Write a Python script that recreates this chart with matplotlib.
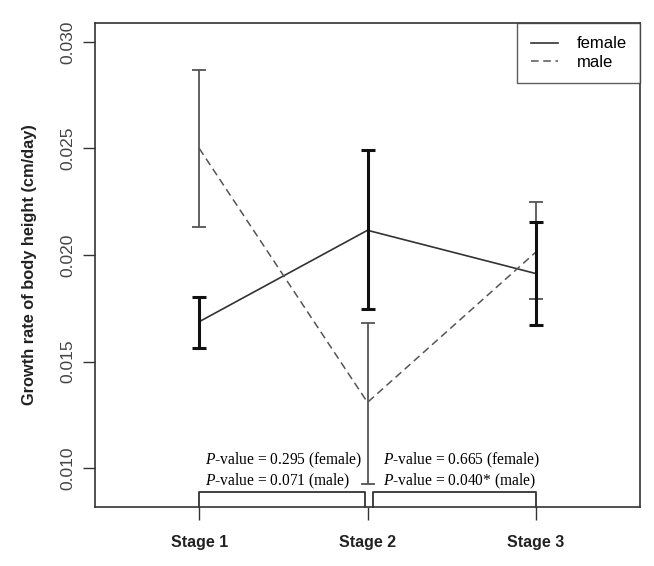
import numpy as np
import matplotlib.pyplot as plt

stages = ['Stage 1', 'Stage 2', 'Stage 3']
female_mean = [0.01687, 0.02116, 0.01913]
female_lo = [0.01563, 0.01748, 0.01670]
female_hi = [0.01802, 0.02491, 0.02154]
male_mean = [0.02500, 0.01308, 0.02013]
male_lo = [0.02132, 0.00925, 0.01795]
male_hi = [0.02869, 0.01680, 0.02249]
p_text = ['$\\it{P}$-value = 0.295 (female)\n$\\it{P}$-value = 0.071 (male)',
          '$\\it{P}$-value = 0.665 (female)\n$\\it{P}$-value = 0.040* (male)']

plt.rcParams['font.family'] = ['Liberation Sans', 'DejaVu Sans']
plt.rcParams['mathtext.fontset'] = 'custom'
plt.rcParams['mathtext.it'] = 'Liberation Serif:italic'
plt.rcParams['mathtext.rm'] = 'Liberation Serif'

fig = plt.figure(figsize=(6.54, 5.66), dpi=100)
ax = fig.add_axes([95 / 654, 1 - 507 / 566, 545 / 654, 484 / 566])

x = np.arange(1, 4)
fm = np.array(female_mean)
mm = np.array(male_mean)

# error bars
ax.errorbar(x, fm, yerr=[fm - np.array(female_lo), np.array(female_hi) - fm],
            fmt='none', ecolor='#111111', elinewidth=2.2, capsize=5, capthick=2.2, zorder=3)
ax.errorbar(x, mm, yerr=[mm - np.array(male_lo), np.array(male_hi) - mm],
            fmt='none', ecolor='#555555', elinewidth=1.3, capsize=5, capthick=1.3, zorder=2)

ax.plot(x, fm, color='#333333', lw=1.2, ls='-', label='female')
ax.plot(x, mm, color='#555555', lw=1.1, ls=(0, (5, 3)), label='male')

ax.set_xlim(0.38, 3.62)
ax.set_ylim(0.00817, 0.03089)
ax.set_xticks(x)
ax.set_xticklabels(stages, fontweight='bold', fontsize=11.5, color='#222222')
ax.set_yticks([0.010, 0.015, 0.020, 0.025, 0.030])
ax.set_yticklabels(['0.010', '0.015', '0.020', '0.025', '0.030'], rotation=90,
                   va='center', fontsize=12.5, color='#444444')
ax.tick_params(axis='both', length=9, width=1, color='#333333')
ax.tick_params(axis='x', pad=11)
ax.tick_params(axis='y', pad=5)
ax.set_ylabel('Growth rate of body height (cm/day)', fontweight='bold', fontsize=11.8,
              color='#222222', labelpad=17)

for s in ax.spines.values():
    s.set_color('#333333')
    s.set_linewidth(1.2)
ax.spines['bottom'].set_visible(False)
ax.axhline(0.00817, color='#333333', lw=1.2, clip_on=False)

# brackets
yb = 0.00888
for (a, b) in [(1.0, 1.985), (2.03, 3.0)]:
    ax.plot([a, a, b, b], [0.00817, yb, yb, 0.00817], color='#333333', lw=1.3, clip_on=False)

for xt, t in zip([1.035, 2.09], p_text):
    ax.text(xt, 0.00985, t, fontsize=11.2, va='center', ha='left', linespacing=1.15,
            family='Liberation Serif')

leg = ax.legend(loc='upper right', borderaxespad=0, fancybox=False, frameon=True,
                edgecolor='#333333', fontsize=12, handlelength=1.65, handletextpad=1.1,
                borderpad=0.8, labelspacing=0.2)
leg.get_frame().set_linewidth(1.0)

fig.savefig('out.png', dpi=100)
